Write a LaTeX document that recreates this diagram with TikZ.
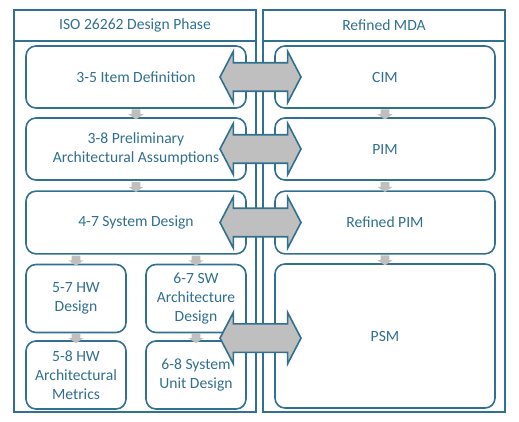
\documentclass[tikz,border=0pt]{standalone}
\usepackage{fontspec}
\setmainfont{Carlito}
\usetikzlibrary{shapes.arrows,calc}
\definecolor{mdablue}{HTML}{31708F}
\definecolor{linkgray}{HTML}{BFBFBF}
\tikzset{
  phase/.style={draw=mdablue, line width=1.2pt, rounded corners=7.5pt, fill=white,
    text=mdablue, align=center, inner sep=2pt, font=\fontsize{11.7}{14.3}\selectfont},
  panel/.style={draw=mdablue, line width=1.2pt, minimum width=181.5pt, minimum height=301.5pt},
  title/.style={text=mdablue, font=\fontsize{11.7}{14.3}\selectfont},
  flow/.style={single arrow, fill=linkgray, draw=none, rotate=-90, inner xsep=0pt, inner ysep=3pt,
    minimum height=7.5pt, single arrow head extend=2.5pt, single arrow tip angle=110},
  trace/.style={double arrow, fill=linkgray, draw=mdablue, line width=1.2pt, inner xsep=0pt,
    inner ysep=10.1pt, minimum height=60.75pt, double arrow head extend=8.6pt,
    double arrow tip angle=125}
}
\begin{document}
\begin{tikzpicture}[x=0.75pt, y=-0.75pt]
\useasboundingbox (0,0) rectangle (519,422);
% panels
\node[panel] (iso) at (135,211) {};
\node[panel] (mda) at (384,211) {};
\draw[mdablue, line width=1.2pt] (14,41) -- (256,41);
\draw[mdablue, line width=1.2pt] (263,41) -- (505,41);
\node[title] (isotitle) at (135,25.5) {ISO 26262 Design Phase};
\node[title] (mdatitle) at (384,25.5) {Refined MDA};
% ISO 26262 side
\node[phase, minimum width=165pt, minimum height=46.5pt] (item) at (136,77) {3-5 Item Definition};
\node[phase, minimum width=165pt, minimum height=46.5pt] (prelim) at (136,149) {3-8 Preliminary\\Architectural Assumptions};
\node[phase, minimum width=165pt, minimum height=47pt] (sys) at (136,222.5) {4-7 System Design};
\node[phase, minimum width=75pt, minimum height=51pt] (hw) at (76,298.5) {5-7 HW\\Design};
\node[phase, minimum width=75pt, minimum height=51pt] (sw) at (196,298.5) {6-7 SW\\Architecture\\Design};
\node[phase, minimum width=75pt, minimum height=51pt] (hwm) at (76,375) {5-8 HW\\Architectural\\Metrics};
\node[phase, minimum width=75pt, minimum height=51pt] (swu) at (196,375) {6-8 System\\Unit Design};
% MDA side
\node[phase, minimum width=165pt, minimum height=46.5pt] (cim) at (385,77) {CIM};
\node[phase, minimum width=165pt, minimum height=46.5pt] (pim) at (385,149) {PIM};
\node[phase, minimum width=165pt, minimum height=47pt] (rpim) at (385,222.5) {Refined PIM};
\node[phase, minimum width=165pt, minimum height=108pt] (psm) at (385,336) {PSM};
% flow between phases
\node[flow] (f1) at ($(item.south)!0.5!(prelim.north)$) {};
\node[flow] (f2) at ($(prelim.south)!0.5!(sys.north)$) {};
\node[flow] (f3) at ($(hw.north)!0.5!(hw.north |- sys.south)$) {};
\node[flow] (f4) at ($(sw.north)!0.5!(sw.north |- sys.south)$) {};
\node[flow] (f5) at ($(hw.south)!0.5!(hwm.north)$) {};
\node[flow] (f6) at ($(sw.south)!0.5!(swu.north)$) {};
\node[flow] (f7) at ($(cim.south)!0.5!(pim.north)$) {};
\node[flow] (f8) at ($(pim.south)!0.5!(rpim.north)$) {};
\node[flow] (f9) at ($(rpim.south)!0.5!(psm.north)$) {};
% mappings
\node[trace] (t1) at ($(item.east)!0.5!(cim.west)$) {};
\node[trace] (t2) at ($(prelim.east)!0.5!(pim.west)$) {};
\node[trace] (t3) at ($(sys.east)!0.5!(rpim.west)$) {};
\node[trace] (t4) at ($(swu.north east)!0.5!(psm.west)$) {};
\end{tikzpicture}
\end{document}
